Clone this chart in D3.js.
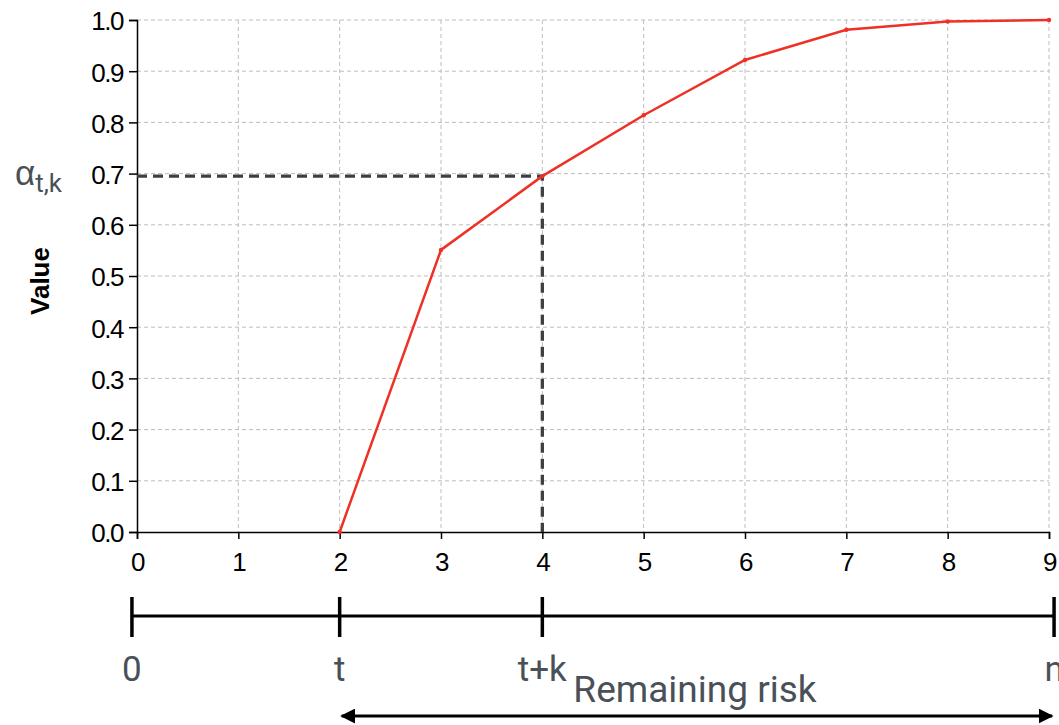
<!DOCTYPE html>
<html>
<head>
<meta charset="utf-8">
<script src="https://cdn.jsdelivr.net/npm/d3@7"></script>
<style>
  body { margin: 0; background: #fff; }
  svg { display: block; }
  .tick text { font-family: "Liberation Sans", Arial, sans-serif; font-size: 26px; letter-spacing: -1.5px; fill: #000; }
  .grid line { stroke: #bdbdbd; stroke-dasharray: 4,3; }
  .lbl { font-family: Roboto, "Liberation Sans", sans-serif; fill: #4a5057; }
</style>
</head>
<body>
<div id="chart"></div>
<script>
// curve data
const xs = [2, 3, 4, 5, 6, 7, 8, 9];
const values = [0.0, 0.551, 0.695, 0.814, 0.922, 0.981, 0.997, 1.0];
const xTicks = [0, 1, 2, 3, 4, 5, 6, 7, 8, 9];
const yTicks = [0, 0.1, 0.2, 0.3, 0.4, 0.5, 0.6, 0.7, 0.8, 0.9, 1.0];

// marked point (t+k, alpha)
const markX = 4;
const markY = 0.695;

// timeline below the chart, in x units
const timelinePos = [-0.05, 2, 4, 9.05];
const timelineLabels = ["0", "t", "t+k", "n"];
const riskRange = [2, 9.05];

const W = 1059, H = 725;
const margin = { top: 20, left: 137, right: 10, bottom: 193 };
const width = 1049 - margin.left;
const height = 532 - margin.top;

const svg = d3.select("#chart").append("svg")
  .attr("width", W).attr("height", H);

const defs = svg.append("defs");
defs.append("marker")
  .attr("id", "head")
  .attr("viewBox", "0 0 10 10")
  .attr("refX", 9).attr("refY", 5)
  .attr("markerWidth", 5).attr("markerHeight", 5)
  .attr("markerUnits", "strokeWidth")
  .attr("orient", "auto-start-reverse")
  .append("path").attr("d", "M0,0L10,5L0,10z").attr("fill", "#000");

const g = svg.append("g").attr("transform", `translate(${margin.left},${margin.top})`);

const x = d3.scaleLinear().domain([0, 9]).range([0, width]);
const y = d3.scaleLinear().domain([0, 1]).range([height, 0]);

// grid
g.append("g").attr("class", "grid")
  .selectAll("line").data(xTicks.slice(1)).join("line")
  .attr("x1", d => x(d)).attr("x2", d => x(d))
  .attr("y1", 0).attr("y2", height);
g.append("g").attr("class", "grid")
  .selectAll("line").data(yTicks.slice(1)).join("line")
  .attr("x1", 0).attr("x2", width)
  .attr("y1", d => y(d)).attr("y2", d => y(d));

// axes
const xAxis = g.append("g").attr("transform", `translate(0,${height})`)
  .call(d3.axisBottom(x).tickValues(xTicks).tickFormat(d3.format("d")).tickSizeOuter(0).tickSize(7).tickPadding(14));
const yAxis = g.append("g")
  .call(d3.axisLeft(y).tickValues(yTicks).tickFormat(d3.format(".1f")).tickSizeOuter(0).tickSize(8).tickPadding(6));
[xAxis, yAxis].forEach(a => a.selectAll("path, line").attr("stroke", "#000").attr("stroke-width", 1.5));
yAxis.selectAll(".tick text").attr("dy", "0.38em");

g.append("text")
  .attr("transform", `translate(${-88},${height / 2 + 5}) rotate(-90)`)
  .attr("text-anchor", "middle")
  .style("font-family", "'Liberation Sans', Arial, sans-serif")
  .style("font-size", "26px").style("font-weight", "bold")
  .text("Value");

// dashed guide lines
const guide = d3.line().x(d => x(d[0])).y(d => y(d[1]));
g.append("path")
  .attr("d", guide([[0, markY], [markX, markY], [markX, 0]]))
  .attr("fill", "none").attr("stroke", "#3b4045")
  .attr("stroke-width", 3.3).attr("stroke-dasharray", "10,6");

// curve
const pts = xs.map((d, i) => [d, values[i]]);
g.append("path")
  .attr("d", d3.line().x(d => x(d[0])).y(d => y(d[1]))(pts))
  .attr("fill", "none").attr("stroke", "#ee3124").attr("stroke-width", 2.5);
g.selectAll(".pt").data(pts).join("circle")
  .attr("cx", d => x(d[0])).attr("cy", d => y(d[1]))
  .attr("r", 2.2).attr("fill", "#ee3124");

// alpha label
const al = svg.append("text").attr("class", "lbl")
  .attr("x", 15).attr("y", margin.top + y(markY) + 9);
al.append("tspan").style("font-size", "35px")
  .style("font-family", "'Liberation Sans', Arial, sans-serif").text("α");
al.append("tspan").attr("dy", 7).style("font-size", "26px").text("t,k");

// timeline
const tl = svg.append("g").attr("transform", `translate(${margin.left},0)`);
const lineY = 616;
tl.append("line")
  .attr("x1", x(timelinePos[0])).attr("x2", x(timelinePos[timelinePos.length - 1]))
  .attr("y1", lineY).attr("y2", lineY)
  .attr("stroke", "#000").attr("stroke-width", 3);
tl.selectAll(".tt").data(timelinePos).join("line")
  .attr("x1", d => x(d)).attr("x2", d => x(d))
  .attr("y1", lineY - 19).attr("y2", lineY + 21)
  .attr("stroke", "#000").attr("stroke-width", 3.5);
tl.selectAll(".tl").data(timelinePos).join("text")
  .attr("class", "lbl")
  .attr("x", d => x(d)).attr("y", 681)
  .attr("text-anchor", "middle")
  .style("font-size", "35px")
  .text((d, i) => timelineLabels[i]);
tl.append("text").attr("class", "lbl")
  .attr("x", x(4) + 31).attr("y", 702)
  .style("font-size", "37px")
  .text("Remaining risk");
tl.append("line")
  .attr("x1", x(riskRange[0]) + 2).attr("x2", x(riskRange[1]) - 2)
  .attr("y1", 716).attr("y2", 716)
  .attr("stroke", "#000").attr("stroke-width", 3)
  .attr("marker-start", "url(#head)").attr("marker-end", "url(#head)");
</script>
</body>
</html>
